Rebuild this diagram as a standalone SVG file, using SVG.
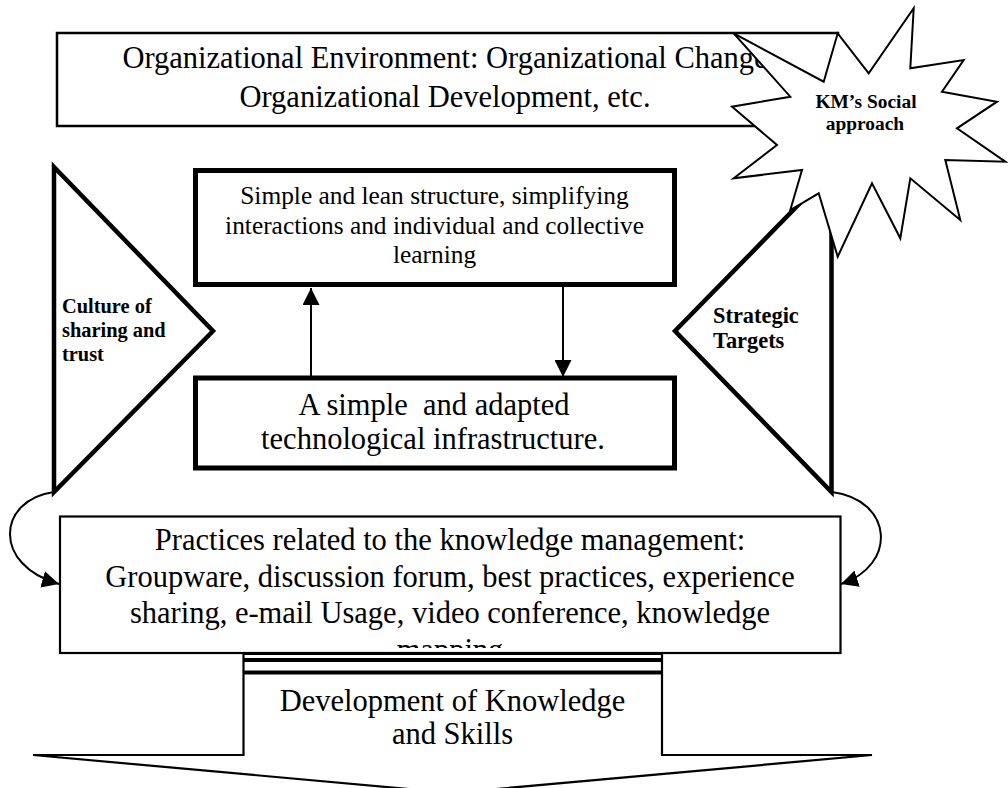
<svg xmlns="http://www.w3.org/2000/svg" width="1008" height="788" viewBox="0 0 1008 788">
<style>
text{font-family:"Liberation Serif","Times New Roman",serif;fill:#000}
.t305{font-size:30.5px}
.t25{font-size:25.4px}
.b{font-weight:bold}
.thin{fill:#fff;stroke:#000;stroke-width:2.5}
.thick{fill:#fff;stroke:#000;stroke-width:5}
.tri{fill:#fff;stroke:#000;stroke-width:4.5;stroke-linejoin:miter}
.conn{fill:none;stroke:#000;stroke-width:2}
</style>
<defs>
<marker id="ah" viewBox="0 0 10 10" refX="10" refY="5" markerWidth="17" markerHeight="17" markerUnits="userSpaceOnUse" orient="auto">
<path d="M0,0 L10,5 L0,10 z" fill="#000"/>
</marker>
<clipPath id="pclip"><rect x="60" y="516" width="780" height="132"/></clipPath>
</defs>
<rect width="1008" height="788" fill="#fff"/>

<g id="org-environment">
<rect class="thin" x="57" y="33" width="781" height="93"/>
<text class="t305" x="445" y="68" text-anchor="middle">Organizational Environment: Organizational Change</text>
<text class="t305" x="445" y="107" text-anchor="middle">Organizational Development, etc.</text>
</g>

<g id="culture">
<polygon class="tri" points="54,167 213,331 54,492"/>
<text class="b" style="font-size:20.4px" x="62" y="313">Culture of</text>
<text class="b" style="font-size:20.4px" x="62" y="337">sharing and</text>
<text class="b" style="font-size:20.4px" x="62" y="361">trust</text>
</g>

<g id="strategic">
<polygon class="tri" points="831.5,171 675,331 831.5,492"/>
<text class="b" style="font-size:22.4px" x="713" y="323">Strategic</text>
<text class="b" style="font-size:22.4px" x="713" y="348">Targets</text>
</g>

<g id="km-social">
<polygon fill="#fff" stroke="#000" stroke-width="2" stroke-linejoin="miter" points="733.7,33.3 823.7,81.7 837.7,33.3 868.7,73.3 913.7,8.3 910.3,68.3 963.7,60 942,91.7 997,101.7 957,128.3 1005.3,161.7 945.3,160 960.3,220 910.3,178.3 900.3,238.3 872,183.3 837.7,256.7 818.7,193.3 790.3,210 802,170 733.7,178.3 777,145 732,106.7 790.3,96.7"/>
<text class="b" style="font-size:19.4px" x="866" y="108" text-anchor="middle">KM’s Social</text>
<text class="b" style="font-size:19.4px" x="865" y="129.5" text-anchor="middle">approach</text>
</g>

<g id="structure">
<rect class="thick" x="195.5" y="170.5" width="479" height="114"/>
<text class="t25" x="434.5" y="204" text-anchor="middle">Simple and lean structure, simplifying</text>
<text class="t25" x="434.5" y="233.5" text-anchor="middle">interactions and individual and collective</text>
<text class="t25" x="434.5" y="263" text-anchor="middle">learning</text>
</g>

<g id="infrastructure">
<rect class="thick" x="195.5" y="378" width="479" height="90"/>
<text class="t305" x="434" y="414.5" text-anchor="middle" xml:space="preserve">A simple  and adapted</text>
<text class="t305" x="433" y="448.5" text-anchor="middle">technological infrastructure.</text>
</g>

<g id="practices">
<rect x="60" y="516.5" width="780.5" height="136.5" fill="#fff" stroke="#000" stroke-width="2.2"/>
<g clip-path="url(#pclip)">
<text class="t305" x="450" y="550" text-anchor="middle">Practices related to the knowledge management:</text>
<text class="t305" x="450" y="586.5" text-anchor="middle">Groupware, discussion forum, best practices, experience</text>
<text class="t305" x="450" y="623" text-anchor="middle">sharing, e-mail Usage, video conference, knowledge</text>
<text class="t305" x="450" y="659.5" text-anchor="middle">mapping</text>
</g>
</g>

<g id="development">
<polygon fill="#fff" stroke="#000" stroke-width="2.2" stroke-linejoin="miter" points="243.5,654 243.5,755 33,755 452.5,793 872,755 662,755 662,654"/>
<line x1="243.5" y1="660" x2="662" y2="660" stroke="#000" stroke-width="4"/>
<line x1="243.5" y1="672.5" x2="662" y2="672.5" stroke="#000" stroke-width="4"/>
<text class="t305" x="452.5" y="711" text-anchor="middle">Development of Knowledge</text>
<text class="t305" x="452.5" y="744" text-anchor="middle">and Skills</text>
</g>

<g id="connectors">
<line class="conn" x1="311" y1="376" x2="311" y2="288" marker-end="url(#ah)"/>
<line class="conn" x1="563" y1="287" x2="563" y2="377" marker-end="url(#ah)"/>
<path class="conn" d="M54,492 C-3,500 -8,565 59,584" marker-end="url(#ah)"/>
<path class="conn" d="M832,492 C893,500 898,565 841,584" marker-end="url(#ah)"/>
</g>
</svg>
